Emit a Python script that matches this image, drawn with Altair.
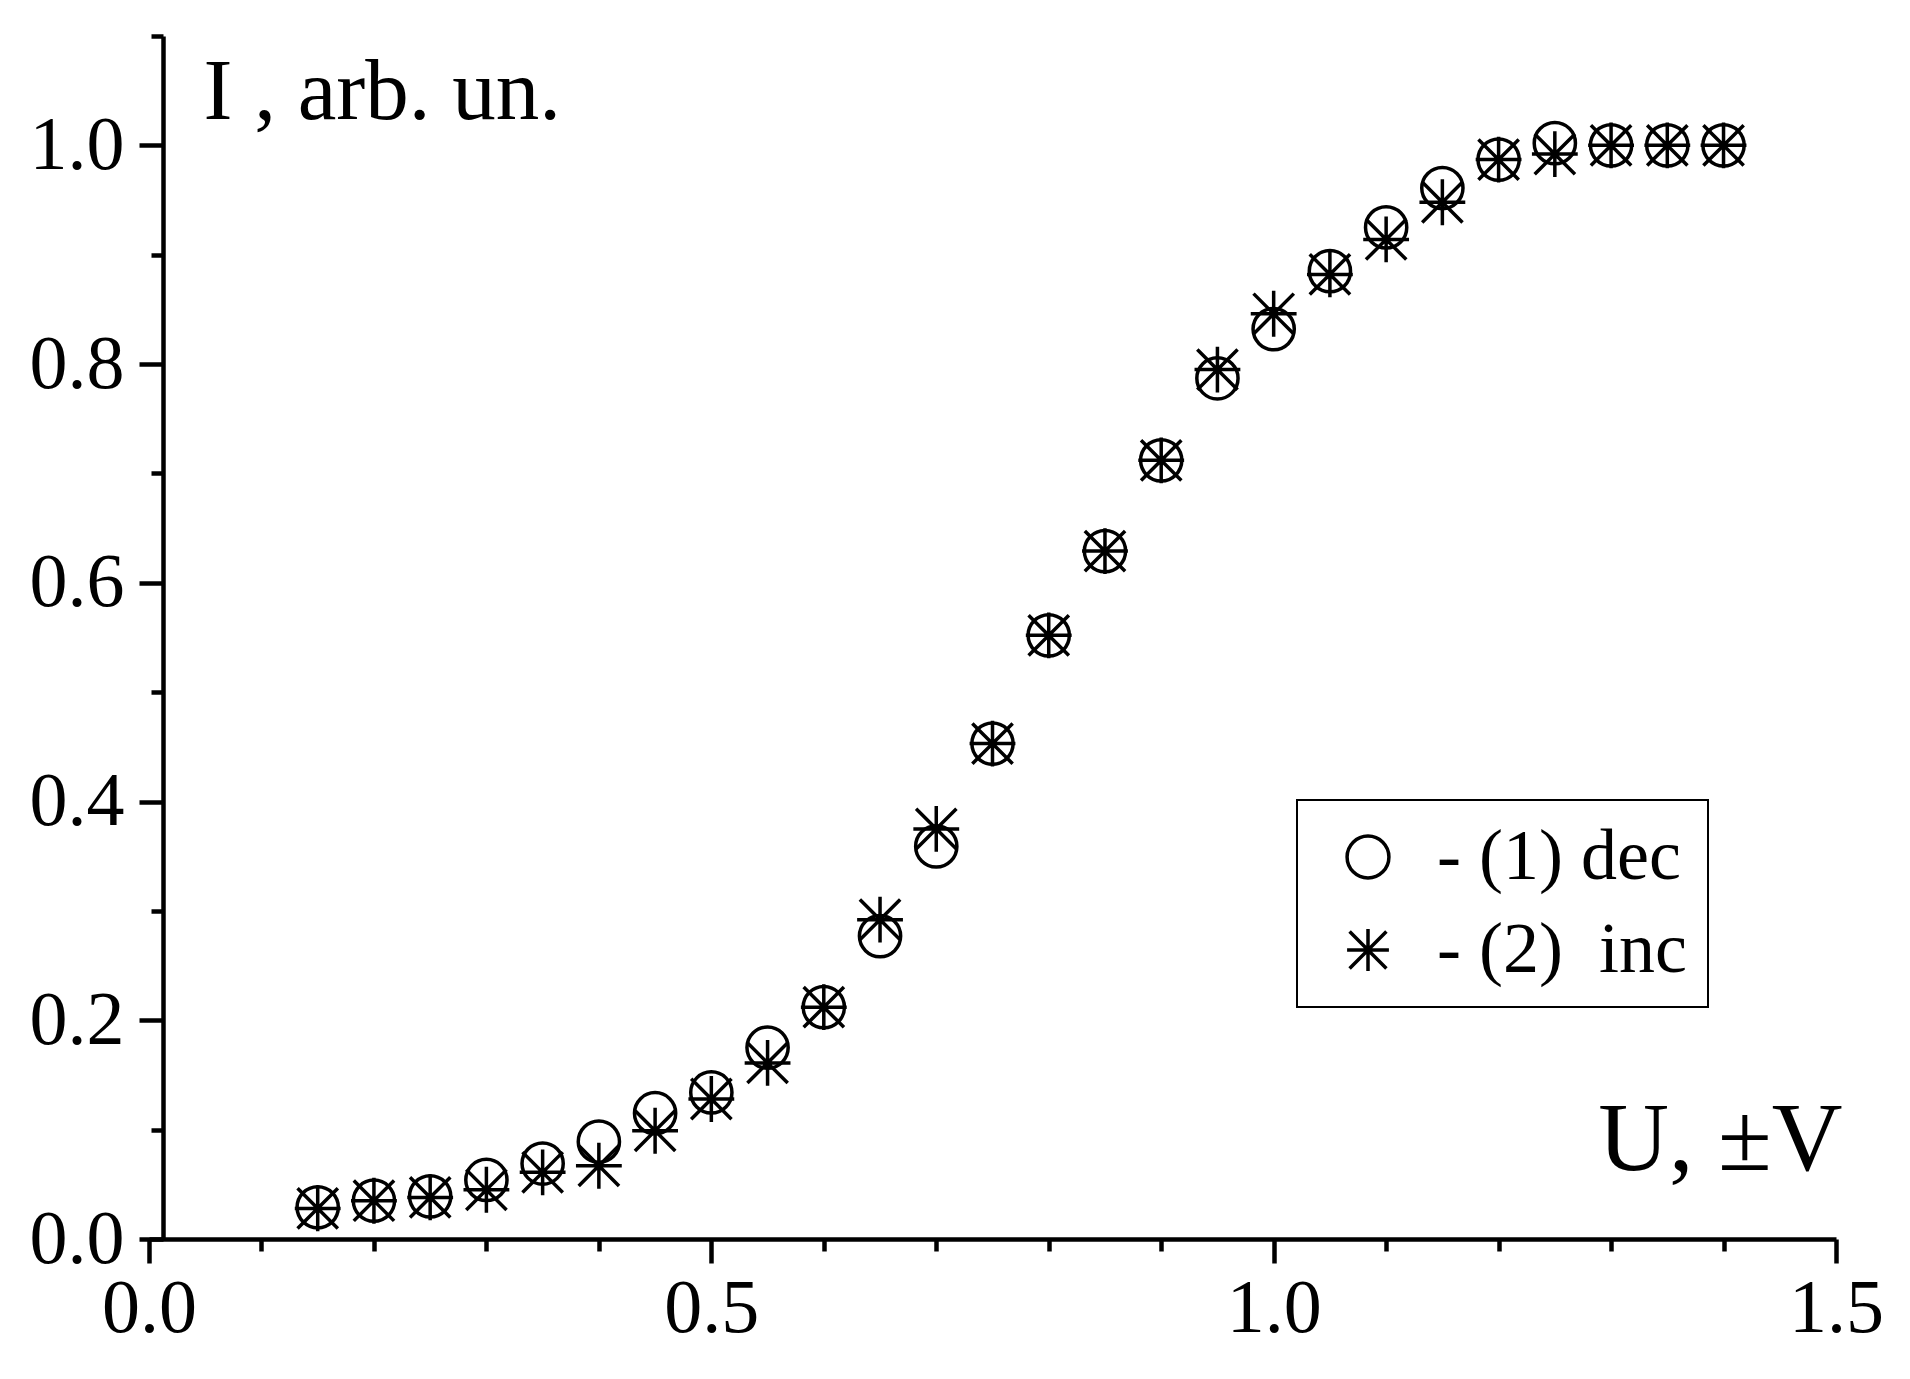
import altair as alt
import pandas as pd

# ---- data ----
u_values = [0.15, 0.20, 0.25, 0.30, 0.35, 0.40, 0.45, 0.50, 0.55, 0.60, 0.65, 0.70, 0.75,
            0.80, 0.85, 0.90, 0.95, 1.00, 1.05, 1.10, 1.15, 1.20, 1.25, 1.30, 1.35, 1.40]
i_dec = [0.029, 0.035, 0.039, 0.054, 0.069, 0.089, 0.115, 0.134, 0.175, 0.212, 0.277, 0.359, 0.453,
         0.552, 0.629, 0.712, 0.787, 0.832, 0.885, 0.925, 0.961, 0.987, 1.002, 1.000, 1.000, 1.000]
i_inc = [0.028, 0.035, 0.038, 0.045, 0.061, 0.067, 0.099, 0.128, 0.161, 0.212, 0.292, 0.375, 0.453,
         0.552, 0.629, 0.712, 0.795, 0.846, 0.882, 0.914, 0.948, 0.987, 0.992, 1.000, 1.000, 1.000]
series_labels = ["- (1) dec", "- (2)\u00a0 inc"]

x_major = [0.0, 0.5, 1.0, 1.5]
x_minor = [0.1, 0.2, 0.3, 0.4, 0.6, 0.7, 0.8, 0.9, 1.1, 1.2, 1.3, 1.4]
y_major = [0.0, 0.2, 0.4, 0.6, 0.8, 1.0]
y_minor = [0.1, 0.3, 0.5, 0.7, 0.9, 1.1]

STAR = "M-1,0L1,0M0,-1L0,1M-0.88,-0.88L0.88,0.88M-0.88,0.88L0.88,-0.88"

df_dec = pd.DataFrame({"U": u_values, "I": i_dec, "series": series_labels[0]})
df_inc = pd.DataFrame({"U": u_values, "I": i_inc, "series": series_labels[1]})
df_all = pd.concat([df_dec, df_inc], ignore_index=True)

FONT = "Liberation Serif"
xscale = alt.Scale(domain=[0, 1.5], nice=False, zero=False)
yscale = alt.Scale(domain=[0, 1.1], nice=False, zero=False)
shape_scale = alt.Scale(domain=series_labels, range=["circle", STAR])

legend = alt.Legend(title=None, orient="none", legendX=1148, legendY=764,
                    strokeColor="black", fillColor="white", padding=21,
                    symbolOffset=14, labelOffset=33, rowPadding=21,
                    labelFont=FONT, labelFontSize=72, labelColor="black", labelLimit=600,
                    symbolSize=1750, symbolStrokeWidth=3.5,
                    symbolStrokeColor="black", symbolFillColor="transparent")

minor = alt.Chart(df_all).mark_point(opacity=0).encode(
    x=alt.X("U:Q", scale=xscale,
            axis=alt.Axis(values=x_minor, labels=False, domain=False, tickSize=12,
                          title=None, orient="bottom", grid=False)),
    y=alt.Y("I:Q", scale=yscale,
            axis=alt.Axis(values=y_minor, labels=False, domain=False, tickSize=12,
                          title=None, orient="left", grid=False, offset=-14)),
)

x_main = alt.X("U:Q", scale=xscale,
               axis=alt.Axis(values=x_major, format=".1f", tickSize=24, labelPadding=8,
                             labelFlush=False, orient="bottom", grid=False,
                             title="U, \u00b1V", titleX=1693, titleY=-70, titleAlign="right",
                             titleBaseline="alphabetic", titleFontSize=98, titleAngle=0))
y_main = alt.Y("I:Q", scale=yscale,
               axis=alt.Axis(values=y_major, format=".1f", tickSize=24, labelPadding=15,
                             orient="left", grid=False, offset=-14,
                             title="I , arb. un.", titleX=40, titleY=82, titleAlign="left",
                             titleBaseline="alphabetic", titleFontSize=87, titleAngle=0))

circles = alt.Chart(df_dec).mark_point(filled=False, strokeWidth=3.5, opacity=1,
                                       color="black", size=1700).encode(
    x=x_main, y=y_main,
    shape=alt.Shape("series:N", scale=shape_scale, legend=legend),
)

stars = alt.Chart(df_inc).mark_point(filled=False, strokeWidth=3.5, opacity=1,
                                     color="black", size=2100).encode(
    x=alt.X("U:Q", scale=xscale), y=alt.Y("I:Q", scale=yscale),
    shape=alt.Shape("series:N", scale=shape_scale, legend=legend),
)

main = alt.layer(circles, stars)

chart = (
    alt.layer(minor, main)
    .resolve_axis(x="independent", y="independent")
    .properties(width=1687, height=1203,
                autosize=alt.AutoSizeParams(type="none"),
                padding={"left": 141, "top": 28, "right": 64, "bottom": 135})
    .configure_view(stroke="transparent")
    .configure_axis(labelFont=FONT, labelFontSize=76, labelColor="black",
                    titleFont=FONT, titleFontWeight="normal", titleColor="black",
                    domainColor="black", tickColor="black", domainWidth=4.5, tickWidth=4.5)
    .configure_legend(strokeWidth=2)
)

chart.save("out.html", embed_options={"renderer": "svg", "actions": False})
